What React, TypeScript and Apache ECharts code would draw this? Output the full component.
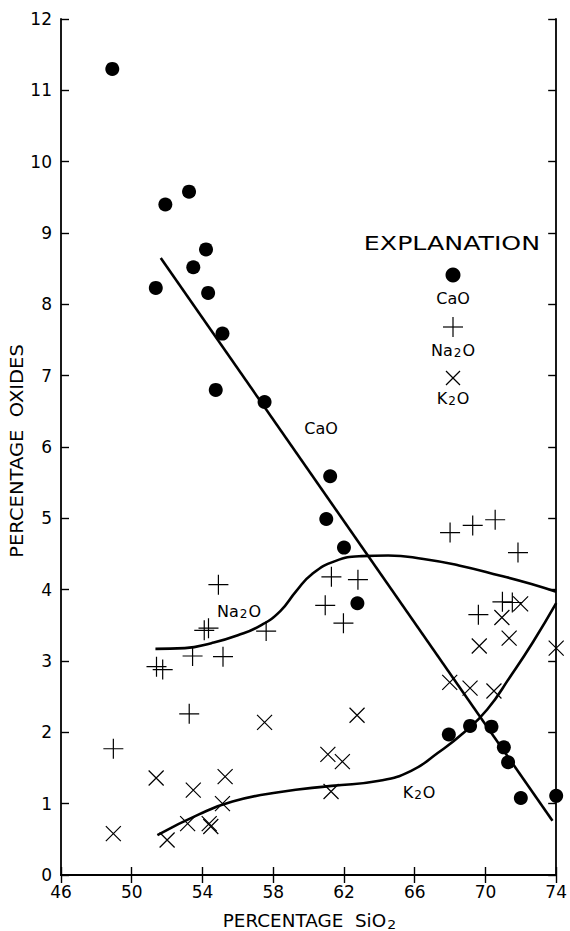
import React, { useEffect, useRef } from "react";
import * as echarts from "echarts";

// ---- data ----
const caoPoints: [number, number][] = [
  [48.9, 11.3], [51.9, 9.4], [53.24, 9.58], [54.2, 8.77], [53.48, 8.52],
  [51.36, 8.23], [54.32, 8.16], [55.13, 7.59], [54.75, 6.8], [57.51, 6.63],
  [61.22, 5.59], [61.0, 4.99], [62.0, 4.59], [62.76, 3.81],
  [67.93, 1.97], [69.13, 2.09], [70.34, 2.08], [71.04, 1.79], [71.28, 1.58],
  [72.0, 1.08], [74.0, 1.11],
];
const na2oPoints: [number, number][] = [
  [48.96, 1.77], [51.4, 2.92], [51.75, 2.88], [53.25, 2.26], [53.44, 3.07],
  [54.1, 3.43], [54.34, 3.46], [54.9, 4.07], [55.16, 3.06], [57.6, 3.42],
  [61.29, 4.18], [62.79, 4.14], [60.94, 3.78], [61.97, 3.53],
  [68.0, 4.8], [69.28, 4.9], [70.55, 4.98], [71.84, 4.52],
  [70.96, 3.83], [71.52, 3.82], [69.6, 3.65], [74.05, 3.54],
];
const k2oPoints: [number, number][] = [
  [48.96, 0.58], [51.38, 1.36], [52.0, 0.49], [53.48, 1.19], [53.16, 0.72],
  [54.38, 0.72], [54.47, 0.68], [55.28, 1.38], [55.13, 1.0], [57.51, 2.14],
  [62.74, 2.24], [61.09, 1.69], [61.91, 1.59], [61.27, 1.17],
  [67.98, 2.7], [69.13, 2.62], [70.48, 2.58], [69.65, 3.21], [71.34, 3.32],
  [74.0, 3.18], [70.93, 3.61], [71.99, 3.8],
];
const caoTrend: [number, number][] = [[51.64, 8.65], [73.79, 0.76]];
const na2oTrend: [number, number][] = [
  [51.34, 3.17], [53, 3.18], [54.5, 3.25], [56, 3.36], [57.3, 3.5],
  [58.4, 3.7], [59.3, 3.98], [60.2, 4.22], [61.5, 4.4], [63, 4.47],
  [64.5, 4.48], [66.5, 4.43], [68.5, 4.34], [70.8, 4.2], [72.6, 4.08], [74, 3.97],
];
const k2oTrend: [number, number][] = [
  [51.45, 0.56], [53.8, 0.85], [55.7, 1.03], [58.3, 1.16], [61.3, 1.25],
  [64, 1.32], [65.8, 1.46], [67.3, 1.71], [68.8, 2.0], [70.1, 2.32],
  [71.4, 2.78], [72.7, 3.27], [74, 3.81],
];
const xMin = 46, xMax = 74, xStep = 4;
const yMin = 0, yMax = 12, yStep = 1;
const yTitle = "PERCENTAGE  OXIDES";
const legendTitle = "EXPLANATION";
const seriesNames = ["CaO", "Na₂O", "K₂O"];
// rich-text versions (true subscript)
const xTitleRich = "{b|PERCENTAGE  SiO}{s|2}";
const seriesRich = ["{b|CaO}", "{b|Na}{s|2}{b|O}", "{b|K}{s|2}{b|O}"];

const FONT = "DejaVu Sans";
const INK = "#000";

const PLUS = "path://M10,0 L10,20 M0,10 L20,10";
const CROSS = "path://M0,0 L20,20 M0,20 L20,0";

export default function App() {
  const ref = useRef<HTMLDivElement>(null);
  useEffect(() => {
    if (!ref.current) return;
    const chart = echarts.init(ref.current, null, { renderer: "svg" });
    const axisLine = { show: true, lineStyle: { color: INK, width: 1.8 } };
    const tick = { show: true, inside: true, length: 8, lineStyle: { color: INK, width: 1.4 } };
    const label = { color: INK, fontSize: 17, fontFamily: FONT };
    const lineSeries = (data: [number, number][], smooth: number | boolean) => ({
      type: "line",
      data,
      smooth,
      symbol: "none",
      silent: true,
      lineStyle: { color: INK, width: 2.6 },
      z: 2,
    });
    const txt = (text: string, x: number, y: number, size = 16, extra: any = {}) => ({
      type: "text", x, y, ...extra,
      style: { text, font: `${size}px ${FONT}`, fill: INK, textAlign: "center", textVerticalAlign: "middle" },
    });
    const rich = (text: string, x: number, y: number, size = 16, extra: any = {}) => ({
      type: "text", x, y, ...extra,
      style: {
        text, fill: INK, textAlign: "center", textVerticalAlign: "middle",
        rich: {
          b: { fontSize: size, fontFamily: FONT, fill: INK, lineHeight: size + 2, verticalAlign: "middle" },
          s: { fontSize: Math.round(size * 0.78), fontFamily: FONT, fill: INK, lineHeight: Math.round(size * 0.78),
               verticalAlign: "bottom", padding: [0, 1, 0, 1] },
        },
      },
    });
    chart.setOption({
      animation: false,
      backgroundColor: "#fff",
      grid: { left: 61, right: 11, top: 19, bottom: 56, containLabel: false },
      xAxis: [
        {
          type: "value", min: xMin, max: xMax, interval: xStep, position: "bottom",
          axisLine, axisTick: tick, splitLine: { show: false },
          axisLabel: { ...label, margin: 8 },
        },
        {
          type: "value", min: xMin, max: xMax, interval: xStep, position: "top",
          axisLine, axisTick: tick, splitLine: { show: false }, axisLabel: { show: false },
        },
      ],
      yAxis: [
        {
          type: "value", min: yMin, max: yMax, interval: yStep, position: "left",
          axisLine, axisTick: tick, splitLine: { show: false },
          axisLabel: { ...label, margin: 9 },
        },
        {
          type: "value", min: yMin, max: yMax, interval: yStep, position: "right",
          axisLine, axisTick: tick, splitLine: { show: false }, axisLabel: { show: false },
        },
      ],
      series: [
        lineSeries(caoTrend, false),
        lineSeries(na2oTrend, 0.5),
        lineSeries(k2oTrend, 0.5),
        {
          name: seriesNames[0], type: "scatter", data: caoPoints, symbol: "circle", symbolSize: 14,
          itemStyle: { color: INK, opacity: 1 }, z: 3,
        },
        {
          name: seriesNames[1], type: "scatter", data: na2oPoints, symbol: PLUS, symbolSize: 20,
          itemStyle: { color: "none", borderColor: INK, borderWidth: 1.2, opacity: 1 }, z: 3,
        },
        {
          name: seriesNames[2], type: "scatter", data: k2oPoints, symbol: CROSS, symbolSize: 15,
          itemStyle: { color: "none", borderColor: INK, borderWidth: 1.2, opacity: 1 }, z: 3,
        },
      ],
      graphic: [
        txt(yTitle, 17, 451, 17, { rotation: Math.PI / 2, scaleX: 1.15 }),
        rich(xTitleRich, 310, 921, 17, { scaleX: 1.08 }),
        txt(legendTitle, 452, 243, 19, { scaleX: 1.33 }),
        { type: "circle", shape: { cx: 453, cy: 275, r: 7.5 }, style: { fill: INK } },
        rich(seriesRich[0], 453, 298),
        { type: "line", shape: { x1: 443, y1: 327, x2: 463, y2: 327 }, style: { stroke: INK, lineWidth: 1.2 } },
        { type: "line", shape: { x1: 453, y1: 317, x2: 453, y2: 337 }, style: { stroke: INK, lineWidth: 1.2 } },
        rich(seriesRich[1], 453, 350),
        { type: "line", shape: { x1: 446, y1: 371, x2: 460, y2: 385 }, style: { stroke: INK, lineWidth: 1.2 } },
        { type: "line", shape: { x1: 446, y1: 385, x2: 460, y2: 371 }, style: { stroke: INK, lineWidth: 1.2 } },
        rich(seriesRich[2], 453, 398),
        rich(seriesRich[0], 321, 428),
        rich(seriesRich[1], 239, 611),
        rich(seriesRich[2], 419, 792),
      ],
    });
    return () => chart.dispose();
  }, []);
  return (
    <div
      ref={ref}
      style={{ position: "absolute", left: 0, top: 0, width: 570, height: 931, background: "#fff" }}
    />
  );
}
